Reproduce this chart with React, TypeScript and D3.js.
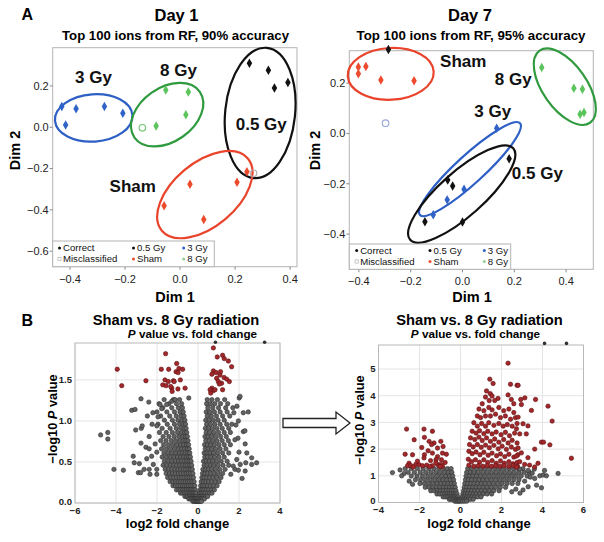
import React from "react";
import * as d3 from "d3";

const FONT = "'Liberation Sans', Arial, Helvetica, sans-serif";

// ---------------- Panel A data (MDS coordinates) ----------------
const day1_05Gy = [[0.252, 0.31], [0.321, 0.276], [0.343, 0.19], [0.392, 0.216]];
const day1_3Gy = [[-0.43, 0.10], [-0.378, 0.09], [-0.275, 0.10], [-0.208, 0.068], [-0.416, 0.011]];
const day1_8Gy = [[-0.052, 0.18], [0.03, 0.17], [0.021, 0.06], [-0.087, 0.006]];
const day1_Sham = [[0.036, -0.276], [0.207, -0.266], [-0.058, -0.38], [0.086, -0.446], [0.243, -0.215]];
const day1_Misclassified = [[-0.137, -0.003, "8 Gy"], [0.267, -0.223, "0.5 Gy"]];

const day7_05Gy = [[0.18, -0.101], [-0.057, -0.185], [-0.038, -0.209], [-0.145, -0.351], [0, -0.352], [-0.286, 0.334]];
const day7_3Gy = [[0.132, 0.021], [0.006, -0.222], [-0.059, -0.264], [-0.113, -0.323]];
const day7_8Gy = [[0.306, 0.262], [0.43, 0.18], [0.463, 0.176], [0.454, 0.076], [0.469, 0.083]];
const day7_Sham = [[-0.402, 0.264], [-0.402, 0.237], [-0.373, 0.266], [-0.315, 0.213], [-0.187, 0.21]];
const day7_Misclassified = [[-0.297, 0.041, "3 Gy"]];

// group ellipses: centre, semi-axes (x units), rotation (deg)
const day1_Ellipses = [
  { group: "3 Gy", cx: -0.314, cy: 0.045, a: 0.141, b: 0.086, angle: -4 },
  { group: "8 Gy", cx: -0.047, cy: 0.061, a: 0.145, b: 0.098, angle: -35 },
  { group: "0.5 Gy", cx: 0.291, cy: 0.069, a: 0.238, b: 0.127, angle: -84 },
  { group: "Sham", cx: 0.09, cy: -0.326, a: 0.204, b: 0.116, angle: -40 },
];
const day7_Ellipses = [
  { group: "Sham", cx: -0.277, cy: 0.237, a: 0.166, b: 0.1, angle: -3 },
  { group: "8 Gy", cx: 0.395, cy: 0.186, a: 0.17, b: 0.085, angle: 55 },
  { group: "3 Gy", cx: 0.029, cy: -0.142, a: 0.262, b: 0.054, angle: -42.5 },
  { group: "0.5 Gy", cx: -0.003, cy: -0.241, a: 0.266, b: 0.085, angle: -41.6 },
];
const day1_Labels = [
  { text: "3 Gy", x: -0.315, y: 0.216 },
  { text: "8 Gy", x: -0.006, y: 0.248 },
  { text: "0.5 Gy", x: 0.295, y: -0.013 },
  { text: "Sham", x: -0.172, y: -0.312 },
];
const day7_Labels = [
  { text: "Sham", x: 0.003, y: 0.266 },
  { text: "8 Gy", x: 0.196, y: 0.193 },
  { text: "3 Gy", x: 0.117, y: 0.067 },
  { text: "0.5 Gy", x: 0.289, y: -0.182 },
];
const pcaTicksX = [-0.4, -0.2, 0.0, 0.2, 0.4];
const day1_TicksY = [-0.6, -0.4, -0.2, 0.0, 0.2];
const day7_TicksY = [-0.4, -0.2, 0.0, 0.2];
const legendLabels = [["Correct", "Misclassified"], ["0.5 Gy", "Sham"], ["3 Gy", "8 Gy"]];

const pointColor = { "0.5 Gy": "#111111", "3 Gy": "#2f63c8", "8 Gy": "#5cc45c", Sham: "#ec4a2c" };
const ellipseColor = { "0.5 Gy": "#111111", "3 Gy": "#2d5fc4", "8 Gy": "#2f9a3e", Sham: "#e9442b" };
const miscColor = { "8 Gy": "#6cc36c", "0.5 Gy": "#b0b0b0", "3 Gy": "#98a4da" };

// ---------------- Panel B data (volcano plots) ----------------
// Day 1: rows of [ -log10 P, log2 FC values ... ] for the dense cloud
const bl_GrayRowsLeft = [
  [1.26, -1.65, -1.2, -0.9], [1.21, -1.9, -1.42, -1.05, -0.8], [1.16, -1.72, -1.28, -0.96, -0.76],
  [1.11, -2.0, -1.52, -1.15, -0.88, -0.72], [1.06, -1.82, -1.38, -1.06, -0.83, -0.68],
  [1.01, -1.64, -1.25, -0.98, -0.78, -0.64], [0.96, -1.95, -1.5, -1.15, -0.9, -0.73, -0.61],
  [0.91, -1.75, -1.36, -1.06, -0.84, -0.68, -0.58], [0.86, -1.88, -1.55, -1.25, -1.0, -0.8, -0.65, -0.55],
  [0.81, -1.7, -1.42, -1.16, -0.93, -0.75, -0.62, -0.52], [0.76, -1.82, -1.56, -1.3, -1.08, -0.88, -0.72, -0.59, -0.49],
  [0.71, -1.68, -1.44, -1.22, -1.02, -0.84, -0.69, -0.56, -0.46],
  [0.66, -1.78, -1.55, -1.34, -1.14, -0.96, -0.8, -0.66, -0.53, -0.43],
  [0.61, -1.66, -1.45, -1.26, -1.08, -0.91, -0.76, -0.62, -0.5, -0.4],
  [0.56, -1.75, -1.54, -1.35, -1.17, -1.0, -0.85, -0.71, -0.58, -0.47, -0.37],
  [0.51, -1.64, -1.45, -1.27, -1.1, -0.95, -0.81, -0.67, -0.55, -0.44, -0.34],
  [0.46, -1.7, -1.52, -1.35, -1.19, -1.04, -0.9, -0.76, -0.63, -0.52, -0.41, -0.31],
  [0.41, -1.6, -1.43, -1.27, -1.12, -0.98, -0.85, -0.72, -0.6, -0.49, -0.38, -0.28],
  [0.36, -1.55, -1.39, -1.24, -1.1, -0.96, -0.83, -0.7, -0.58, -0.47, -0.36, -0.25],
  [0.31, -1.48, -1.33, -1.19, -1.05, -0.92, -0.79, -0.67, -0.55, -0.44, -0.33, -0.22],
  [0.26, -1.36, -1.22, -1.09, -0.97, -0.85, -0.73, -0.62, -0.51, -0.41, -0.3, -0.19],
  [0.21, -1.22, -1.1, -0.98, -0.87, -0.76, -0.66, -0.56, -0.46, -0.36, -0.26, -0.16],
  [0.16, -1.05, -0.94, -0.84, -0.74, -0.65, -0.56, -0.47, -0.38, -0.3, -0.21, -0.13],
  [0.12, -0.85, -0.76, -0.67, -0.59, -0.51, -0.43, -0.36, -0.29, -0.22, -0.15, -0.09],
  [0.08, -0.64, -0.56, -0.49, -0.42, -0.35, -0.29, -0.23, -0.17, -0.11, -0.06],
  [0.05, -0.45, -0.38, -0.32, -0.26, -0.2, -0.15, -0.1, -0.05],
  [0.02, -0.25, -0.19, -0.14, -0.09, -0.05, -0.02],
];
const bl_GrayRowsRight = [
  [1.26, 0.45, 0.68, 0.95, 1.3], [1.21, 0.42, 0.6, 0.82, 1.1, 1.45], [1.16, 0.48, 0.72, 1.0, 1.35, 1.7],
  [1.11, 0.4, 0.58, 0.8, 1.08, 1.42], [1.06, 0.45, 0.65, 0.9, 1.2, 1.55], [1.01, 0.38, 0.55, 0.75, 0.98, 1.28],
  [0.96, 0.42, 0.6, 0.82, 1.08, 1.4, 1.65], [0.91, 0.36, 0.52, 0.7, 0.92, 1.18, 1.5],
  [0.86, 0.4, 0.57, 0.77, 1.0, 1.28, 1.58], [0.81, 0.34, 0.49, 0.66, 0.86, 1.1, 1.38],
  [0.76, 0.38, 0.54, 0.72, 0.93, 1.18, 1.48], [0.71, 0.32, 0.46, 0.62, 0.8, 1.02, 1.28, 1.58],
  [0.66, 0.35, 0.5, 0.67, 0.86, 1.08, 1.36], [0.61, 0.3, 0.44, 0.59, 0.76, 0.96, 1.2, 1.5],
  [0.56, 0.33, 0.47, 0.63, 0.81, 1.02, 1.28], [0.51, 0.27, 0.4, 0.55, 0.72, 0.91, 1.13, 1.42],
  [0.46, 0.3, 0.44, 0.6, 0.78, 0.98, 1.22, 1.5], [0.41, 0.24, 0.37, 0.51, 0.67, 0.85, 1.06, 1.32],
  [0.36, 0.22, 0.34, 0.47, 0.62, 0.79, 0.98, 1.2], [0.31, 0.19, 0.3, 0.43, 0.57, 0.73, 0.91, 1.12],
  [0.26, 0.16, 0.27, 0.39, 0.52, 0.67, 0.84, 1.03], [0.21, 0.13, 0.23, 0.34, 0.46, 0.6, 0.76, 0.93],
  [0.16, 0.1, 0.19, 0.29, 0.4, 0.52, 0.66, 0.8], [0.12, 0.08, 0.16, 0.25, 0.34, 0.45, 0.57, 0.68],
  [0.08, 0.06, 0.13, 0.2, 0.28, 0.37, 0.47], [0.05, 0.04, 0.1, 0.16, 0.23, 0.31], [0.02, 0.02, 0.06, 0.11, 0.17],
];
const bl_GrayScatter = [
  [-4.75, 0.83], [-4.4, 0.86], [-4.4, 0.78], [-4.1, 0.41], [-3.64, 0.4], [-3.16, 0.57], [-3.11, 0.49], [-2.86, 0.48],
  [-2.91, 0.37], [-2.8, 0.37], [-2.63, 0.41], [-2.38, 0.41], [-2.34, 0.35], [-2.78, 1.27], [-2.4, 1.23], [-3.23, 1.13],
  [-3.07, 1.14], [-2.47, 1.06], [-2.77, 0.91], [-2.72, 0.94], [-3.04, 0.89], [-2.24, 0.96], [-2.38, 0.81], [-2.78, 0.73],
  [-2.54, 0.68], [-2.38, 0.66], [-2.26, 0.57], [-2.5, 0.54], [-2.18, 0.47], [-2.01, 0.41], [-2.01, 0.35], [-1.85, 1.2],
  [-1.77, 1.15], [-1.53, 1.2], [-2.01, 0.94], [-2.09, 0.72], [-2.01, 0.62], [-1.28, 1.24], [-1.12, 1.26], [-0.45, 1.28],
  [-2.2, 1.1], [-1.95, 1.05],
  [2.01, 1.28], [2.21, 1.1], [2.45, 1.11], [1.97, 1.0], [2.21, 0.87], [1.95, 0.79], [2.3, 0.72], [2.38, 0.61],
  [2.62, 0.55], [2.86, 0.49], [2.62, 0.47], [2.33, 0.49], [2.06, 0.47], [1.8, 0.41], [1.97, 0.4], [2.3, 0.39],
  [1.72, 0.45], [1.89, 0.53], [2.29, 0.88], [2.05, 1.3], [1.8, 0.77], [2.0, 0.62], [1.85, 0.95], [1.75, 1.1],
  [1.9, 1.18], [2.15, 0.3], [1.6, 0.35],
];
const bl_Red = [
  [-1.58, 1.82], [-1.79, 1.63], [-1.43, 1.63], [-1.04, 1.7], [-0.93, 1.64], [-0.75, 1.63], [-1.07, 1.6], [-1.61, 1.5],
  [-1.45, 1.48], [-1.2, 1.49], [-0.86, 1.5], [-1.72, 1.44], [-1.56, 1.43], [-1.28, 1.4], [-0.98, 1.39], [-0.63, 1.4],
  [-1.26, 1.36], [-3.94, 1.63], [-3.72, 1.43], [-2.54, 1.49], [-1.16, 1.48], [-1.33, 1.42], [-0.97, 1.59],
  [0.75, 1.89], [1.2, 1.8], [1.28, 1.76], [0.94, 1.78], [1.48, 1.73], [1.64, 1.66], [0.75, 1.61], [0.88, 1.59],
  [0.68, 1.57], [1.07, 1.56], [1.27, 1.53], [1.4, 1.51], [1.53, 1.48], [0.91, 1.52], [0.99, 1.48], [1.15, 1.46],
  [1.04, 1.45], [0.68, 1.4], [0.59, 1.38], [0.75, 1.37], [0.62, 1.34], [1.2, 1.38], [0.83, 1.38], [1.1, 1.6],
];
const bl_OffScale = [[0.85, 1.96], [3.25, 1.96]];

// Day 7
const br_GrayRowsRight = [
  [1.27, 0.35, 0.55, 0.78, 1.0, 1.22, 1.45, 1.68, 1.9, 2.12, 2.35, 2.58, 2.8, 3.05],
  [1.13, 0.3, 0.48, 0.66, 0.86, 1.08, 1.3, 1.52, 1.74, 1.96, 2.18, 2.4, 2.62, 2.85, 3.1, 3.35],
  [0.99, 0.27, 0.43, 0.6, 0.78, 0.97, 1.18, 1.4, 1.62, 1.84, 2.06, 2.28, 2.5, 2.72, 2.96, 3.25],
  [0.85, 0.24, 0.39, 0.55, 0.72, 0.9, 1.09, 1.29, 1.5, 1.71, 1.92, 2.14, 2.36, 2.6, 2.85],
  [0.71, 0.21, 0.35, 0.5, 0.66, 0.83, 1.01, 1.2, 1.4, 1.6, 1.81, 2.03, 2.27, 2.52, 2.8],
  [0.57, 0.18, 0.31, 0.45, 0.6, 0.76, 0.93, 1.11, 1.3, 1.5, 1.71, 1.94, 2.2],
  [0.44, 0.15, 0.27, 0.4, 0.54, 0.69, 0.85, 1.02, 1.2, 1.4, 1.62, 1.88],
  [0.32, 0.12, 0.23, 0.35, 0.48, 0.62, 0.77, 0.93, 1.1, 1.3, 1.52],
  [0.21, 0.09, 0.19, 0.3, 0.42, 0.55, 0.69, 0.84, 1.0],
  [0.12, 0.06, 0.15, 0.25, 0.36, 0.48, 0.62],
  [0.05, 0.03, 0.11, 0.2, 0.3],
];
const br_GrayRowsLeft = [
  [1.27, -2.7, -2.4, -2.1, -1.82, -1.55, -1.3, -1.06, -0.84, -0.64, -0.46],
  [1.13, -2.55, -2.25, -1.96, -1.7, -1.45, -1.21, -0.99, -0.78, -0.59, -0.42],
  [0.99, -2.4, -2.12, -1.85, -1.6, -1.36, -1.13, -0.92, -0.72, -0.54, -0.38],
  [0.85, -2.2, -1.95, -1.71, -1.48, -1.26, -1.05, -0.85, -0.67, -0.5, -0.34],
  [0.71, -1.98, -1.76, -1.55, -1.35, -1.15, -0.96, -0.78, -0.61, -0.45, -0.3],
  [0.57, -1.72, -1.53, -1.35, -1.17, -1.0, -0.84, -0.68, -0.53, -0.39, -0.26],
  [0.44, -1.45, -1.29, -1.13, -0.98, -0.84, -0.7, -0.57, -0.45, -0.33, -0.22],
  [0.32, -1.15, -1.02, -0.9, -0.78, -0.66, -0.55, -0.45, -0.35, -0.26, -0.17],
  [0.21, -0.85, -0.75, -0.65, -0.56, -0.47, -0.38, -0.3, -0.22, -0.13],
  [0.12, -0.55, -0.47, -0.39, -0.32, -0.25, -0.18, -0.11, -0.06],
  [0.05, -0.28, -0.21, -0.15, -0.09, -0.04],
];
const br_GrayScatter = [
  [-3.32, 1.12], [-2.75, 1.09], [-2.87, 1.0], [-2.34, 0.68], [-2.95, 1.22], [-2.5, 0.8],
  [2.89, 1.25], [3.13, 0.8], [3.3, 0.59], [3.05, 0.47], [3.71, 0.65], [3.95, 0.55], [3.87, 1.0], [4.03, 1.03],
  [4.19, 1.0], [4.76, 1.09], [3.5, 1.1], [3.62, 0.9], [3.3, 1.2], [3.4, 0.95], [2.7, 0.5], [2.9, 0.35],
  [2.5, 0.4], [3.6, 1.25], [4.1, 1.2],
];
const br_Red = [
  [-2.63, 2.75], [-1.78, 2.75], [-1.37, 2.67], [-2.26, 2.35], [-1.76, 2.44], [-1.53, 2.29], [-1.29, 2.23], [-1.41, 2.17],
  [-1.12, 2.04], [-0.96, 2.29], [-1.89, 2.06], [-1.58, 1.94], [-2.34, 1.79], [-2.7, 1.81], [-1.76, 1.79], [-1.37, 1.85],
  [-1.12, 1.72], [-0.88, 1.85], [-1.78, 1.67], [-1.46, 1.57], [-1.19, 1.61], [-2.51, 1.47], [-2.18, 1.43], [-2.58, 1.38],
  [-2.42, 1.38], [-2.02, 1.42], [-1.86, 1.38], [-1.37, 1.38], [-1.12, 1.42], [-0.96, 1.43], [-0.88, 1.36], [-1.65, 1.4],
  [-1.5, 1.35], [-2.3, 1.33], [-0.85, 2.1], [-0.69, 1.81], [-0.75, 1.5], [-0.93, 1.6], [-1.2, 1.5], [-2.1, 1.55], [-1.0, 1.35],
  [2.32, 5.22], [1.43, 4.62], [1.59, 4.46], [2.44, 4.43], [2.76, 4.39], [1.27, 4.18], [1.45, 4.08], [1.54, 3.99],
  [1.22, 3.95], [1.4, 3.82], [1.67, 3.82], [1.83, 3.9], [2.32, 4.03], [2.48, 3.86], [2.6, 3.7], [1.06, 3.7], [0.9, 3.5],
  [1.14, 3.44], [1.38, 3.56], [1.54, 3.47], [1.87, 3.56], [2.11, 3.44], [2.36, 3.5], [2.6, 3.37],
  [0.82, 3.24], [0.98, 3.18], [1.22, 3.24], [1.46, 3.24], [1.71, 3.31], [1.95, 3.18], [2.19, 3.24], [2.44, 3.12], [2.68, 3.18],
  [0.65, 2.99], [0.82, 2.86], [1.03, 2.96], [1.22, 2.86], [1.38, 2.99], [1.63, 2.89], [1.87, 2.96], [2.08, 2.86],
  [2.28, 2.92], [2.52, 2.86], [2.76, 2.96],
  [0.57, 2.67], [0.76, 2.6], [0.93, 2.69], [1.14, 2.58], [1.33, 2.67], [1.54, 2.57], [1.74, 2.64], [1.98, 2.54],
  [2.19, 2.63], [2.39, 2.5], [2.64, 2.6],
  [0.49, 2.42], [0.7, 2.36], [0.9, 2.45], [1.06, 2.32], [1.27, 2.42], [1.46, 2.29], [1.67, 2.38], [1.87, 2.26],
  [2.11, 2.36], [2.32, 2.23], [2.52, 2.33], [2.76, 2.23],
  [0.44, 2.17], [0.62, 2.08], [0.82, 2.17], [1.01, 2.07], [1.22, 2.15], [1.41, 2.05], [1.63, 2.14], [1.84, 2.01],
  [2.03, 2.11], [2.24, 1.99], [2.48, 2.08], [2.68, 1.99],
  [0.41, 1.92], [0.57, 1.83], [0.76, 1.89], [0.95, 1.79], [1.14, 1.88], [1.35, 1.77], [1.54, 1.85], [1.76, 1.75],
  [1.95, 1.82], [2.16, 1.72], [2.36, 1.81], [2.6, 1.7], [2.8, 1.79],
  [0.38, 1.62], [0.54, 1.53], [0.73, 1.6], [0.93, 1.51], [1.14, 1.6], [1.33, 1.5], [1.54, 1.57], [1.74, 1.47],
  [1.95, 1.56], [2.14, 1.47], [2.36, 1.53], [2.56, 1.45], [2.76, 1.5],
  [0.41, 1.4], [0.65, 1.36], [0.87, 1.38], [1.09, 1.36], [1.3, 1.38], [1.51, 1.36], [1.71, 1.38], [1.92, 1.36],
  [2.13, 1.38], [2.36, 1.36], [2.57, 1.38], [2.78, 1.36],
  [2.81, 4.39], [2.94, 3.86], [3.14, 3.92], [3.66, 3.86], [2.97, 3.67], [3.46, 3.45], [4.27, 3.61], [4.47, 3.05],
  [2.81, 3.2], [3.05, 2.95], [3.29, 2.87], [2.73, 2.76], [2.89, 2.57], [3.21, 2.57], [3.95, 2.26], [4.05, 2.26],
  [4.36, 2.16], [3.62, 2.0], [2.81, 2.04], [2.97, 1.86], [2.73, 1.74], [5.41, 1.66], [3.29, 1.68], [2.89, 1.53],
  [3.13, 1.43], [3.37, 1.4], [3.78, 1.47], [3.62, 1.33], [2.73, 1.33],
];
const br_OffScale = [[4.1, 5.96], [5.17, 5.96]];

const bl_TicksX = [-6, -4, -2, 0, 2, 4];
const bl_TicksY = [0, 0.5, 1.0, 1.5];
const br_TicksX = [-4, -2, 0, 2, 4, 6];
const br_TicksY = [0, 1, 2, 3, 4, 5];

const expandRows = (rows) => rows.flatMap(([y, ...xs]) => xs.map((x) => [x, y]));

// ---------------- components ----------------
function PcaPanel({ frame, xDomain, yDomain, yTicks, series, misc, ellipses, labels, legend }) {
  const xs = d3.scaleLinear().domain(xDomain).range([frame.x0, frame.x1]);
  const ys = d3.scaleLinear().domain(yDomain).range([frame.y1, frame.y0]);
  const k = xs(1) - xs(0);
  const fmt = d3.format(".1f");
  const diamond = d3.symbol().type(d3.symbolDiamond).size(26)();
  const legColors = [["#111", "#bbb"], ["#111", "#ec4a2c"], ["#2f63c8", "#8fd08f"]];
  return (
    <g>
      <rect x={frame.x0} y={frame.y0} width={frame.x1 - frame.x0} height={frame.y1 - frame.y0}
        fill="none" stroke="#b3b3b3" strokeWidth={1} />
      {pcaTicksX.map((t) => (
        <g key={"x" + t}>
          <line x1={xs(t)} x2={xs(t)} y1={frame.y1} y2={frame.y1 + 3} stroke="#888" />
          <text x={xs(t)} y={frame.y1 + 16} textAnchor="middle" fontSize={11} fill="#222">{fmt(t)}</text>
        </g>
      ))}
      {yTicks.map((t) => (
        <g key={"y" + t}>
          <line x1={frame.x0 - 3} x2={frame.x0} y1={ys(t)} y2={ys(t)} stroke="#888" />
          <text x={frame.x0 - 4} y={ys(t)} dy="0.35em" textAnchor="end" fontSize={11} fill="#222">{fmt(t)}</text>
        </g>
      ))}
      {ellipses.map((e) => {
        const cx = xs(e.cx), cy = ys(e.cy);
        return (
          <ellipse key={e.group} cx={cx} cy={cy} rx={e.a * k} ry={e.b * k}
            transform={`rotate(${e.angle},${cx},${cy})`} fill="none"
            stroke={ellipseColor[e.group]} strokeWidth={2.2} />
        );
      })}
      {series.map((s) =>
        s.pts.map((p, i) => (
          <path key={s.group + i} d={diamond} transform={`translate(${xs(p[0])},${ys(p[1])})`}
            fill={pointColor[s.group]} />
        ))
      )}
      {misc.map((m, i) => (
        <circle key={"m" + i} cx={xs(m[0])} cy={ys(m[1])} r={3.3} fill="none"
          stroke={miscColor[m[2]]} strokeWidth={1.1} />
      ))}
      {labels.map((l) => (
        <text key={l.text} x={xs(l.x)} y={ys(l.y)} textAnchor="middle" fontSize={17}
          fontWeight="bold" fill="#111">{l.text}</text>
      ))}
      <rect x={frame.x0} y={legend.y0} width={legend.w} height={frame.y1 - legend.y0}
        fill="white" stroke="#b3b3b3" strokeWidth={1} />
      {legendLabels.map((col, ci) =>
        col.map((lab, ri) => (
          <g key={lab}>
            {ci === 0 && ri === 1 ? (
              <rect x={frame.x0 + legend.cols[ci] - 1.6} y={legend.rows[ri] - 5} width={3.2} height={3.2}
                fill="none" stroke="#bbb" strokeWidth={0.8} />
            ) : (
              <circle cx={frame.x0 + legend.cols[ci]} cy={legend.rows[ri] - 3.3} r={1.5}
                fill={legColors[ci][ri]} />
            )}
            <text x={frame.x0 + legend.cols[ci] + 3.5} y={legend.rows[ri]} fontSize={9.6} fill="#111">{lab}</text>
          </g>
        ))
      )}
    </g>
  );
}

function VolcanoPanel({ frame, xDomain, yDomain, xTicks, yTicks, yFmt, gray, red, off }) {
  const xs = d3.scaleLinear().domain(xDomain).range([frame.x0, frame.x1]);
  const ys = d3.scaleLinear().domain(yDomain).range([frame.y1, frame.y0]);
  return (
    <g>
      {xTicks.map((t) => (
        <line key={"gx" + t} x1={xs(t)} x2={xs(t)} y1={frame.y0} y2={frame.y1} stroke="#e4e4e4" />
      ))}
      {yTicks.map((t) => (
        <line key={"gy" + t} x1={frame.x0} x2={frame.x1} y1={ys(t)} y2={ys(t)} stroke="#e4e4e4" />
      ))}
      <rect x={frame.x0} y={frame.y0} width={frame.x1 - frame.x0} height={frame.y1 - frame.y0}
        fill="none" stroke="#b8b8b8" strokeWidth={1} />
      {gray.map((p, i) => (
        <circle key={"g" + i} cx={xs(p[0])} cy={ys(p[1])} r={2.2} fill="#626262" stroke="#2e2e2e" strokeWidth={0.6} />
      ))}
      {red.map((p, i) => (
        <circle key={"r" + i} cx={xs(p[0])} cy={ys(p[1])} r={2.2} fill="#a3282b" stroke="#5e1012" strokeWidth={0.6} />
      ))}
      {off.map((p, i) => (
        <circle key={"o" + i} cx={xs(p[0])} cy={ys(p[1])} r={1.8} fill="#333" />
      ))}
      {xTicks.map((t) => (
        <text key={"tx" + t} x={xs(t)} y={frame.y1 + 10.5} textAnchor="middle" fontSize={9.5}
          fontWeight="bold" fill="#222">{d3.format("d")(t)}</text>
      ))}
      {yTicks.map((t) => (
        <text key={"ty" + t} x={frame.x0 - 3} y={ys(t) - (t === 0 ? 1.5 : 0)} dy="0.35em" textAnchor="end" fontSize={9.5}
          fontWeight="bold" fill="#222">{yFmt(t)}</text>
      ))}
    </g>
  );
}

export default function App() {
  const blGray = [...expandRows(bl_GrayRowsLeft), ...expandRows(bl_GrayRowsRight), ...bl_GrayScatter];
  const brGray = [...expandRows(br_GrayRowsLeft), ...expandRows(br_GrayRowsRight), ...br_GrayScatter];
  return (
    <svg width={604} height={542} viewBox="0 0 604 542"
      style={{ position: "absolute", left: 0, top: 0, background: "white", fontFamily: FONT }}>
      <rect x={0} y={0} width={604} height={542} fill="white" />
      {/* Panel labels */}
      <text x={21.5} y={20} fontSize={16} fontWeight="bold">A</text>
      <text x={21.5} y={326} fontSize={16} fontWeight="bold">B</text>

      {/* Day 1 */}
      <text x={176.5} y={20.5} textAnchor="middle" fontSize={16.5} fontWeight="bold">Day 1</text>
      <text x={175.5} y={39.5} textAnchor="middle" fontSize={12.5} fontWeight="bold"
        textLength={227} lengthAdjust="spacingAndGlyphs">Top 100 ions from RF, 90% accuracy</text>
      <PcaPanel
        frame={{ x0: 52.7, x1: 297, y0: 47.7, y1: 266.7 }}
        xDomain={[-0.463, 0.425]} yDomain={[-0.675, 0.385]} yTicks={day1_TicksY}
        series={[
          { group: "3 Gy", pts: day1_3Gy }, { group: "8 Gy", pts: day1_8Gy },
          { group: "0.5 Gy", pts: day1_05Gy }, { group: "Sham", pts: day1_Sham },
        ]}
        misc={day1_Misclassified} ellipses={day1_Ellipses} labels={day1_Labels}
        legend={{ y0: 241, w: 161.6, rows: [251.3, 262.3], cols: [6.8, 80.8, 131] }}
      />
      <text x={175} y={301.5} textAnchor="middle" fontSize={14.5} fontWeight="bold">Dim 1</text>
      <text transform="translate(19.5,150.5) rotate(-90)" textAnchor="middle" fontSize={14.5} fontWeight="bold">Dim 2</text>

      {/* Day 7 */}
      <text x={470} y={20.5} textAnchor="middle" fontSize={16.5} fontWeight="bold">Day 7</text>
      <text x={471} y={39.5} textAnchor="middle" fontSize={12.5} fontWeight="bold"
        textLength={229} lengthAdjust="spacingAndGlyphs">Top 100 ions from RF, 95% accuracy</text>
      <PcaPanel
        frame={{ x0: 349.3, x1: 593.3, y0: 50.7, y1: 269.3 }}
        xDomain={[-0.437, 0.505]} yDomain={[-0.54, 0.329]} yTicks={day7_TicksY}
        series={[
          { group: "Sham", pts: day7_Sham }, { group: "8 Gy", pts: day7_8Gy },
          { group: "3 Gy", pts: day7_3Gy }, { group: "0.5 Gy", pts: day7_05Gy },
        ]}
        misc={day7_Misclassified} ellipses={day7_Ellipses} labels={day7_Labels}
        legend={{ y0: 244, w: 161.4, rows: [253.8, 264.9], cols: [7.4, 80.7, 135] }}
      />
      <text x={472} y={301.5} textAnchor="middle" fontSize={14.5} fontWeight="bold">Dim 1</text>
      <text transform="translate(319.5,150.5) rotate(-90)" textAnchor="middle" fontSize={14.5} fontWeight="bold">Dim 2</text>

      {/* Volcano Day 1 */}
      <text x={176} y={325} textAnchor="middle" fontSize={14.7} fontWeight="bold">Sham vs. 8 Gy radiation</text>
      <text x={192.5} y={338.3} textAnchor="middle" fontSize={11.7} fontWeight="bold">
        <tspan fontStyle="italic">P</tspan> value vs. fold change
      </text>
      <VolcanoPanel
        frame={{ x0: 75, x1: 280, y0: 343, y1: 503 }}
        xDomain={[-6, 4]} yDomain={[0, 1.95]} xTicks={bl_TicksX} yTicks={bl_TicksY}
        yFmt={d3.format(".1f")} gray={blGray} red={bl_Red} off={bl_OffScale}
      />
      <text x={177.5} y={528} textAnchor="middle" fontSize={13} fontWeight="bold">log2 fold change</text>
      <text transform="translate(56.5,419) rotate(-90)" textAnchor="middle" fontSize={12.8} fontWeight="bold">
        −log10 <tspan fontStyle="italic">P</tspan> value
      </text>

      {/* Arrow */}
      <path d="M283,418.5 H336 V412 L350,423 L336,434 V427.5 H283 Z" fill="white" stroke="#222" strokeWidth={1.3} />

      {/* Volcano Day 7 */}
      <text x={479.5} y={325} textAnchor="middle" fontSize={14.7} fontWeight="bold">Sham vs. 8 Gy radiation</text>
      <text x={475.5} y={338} textAnchor="middle" fontSize={11.7} fontWeight="bold">
        <tspan fontStyle="italic">P</tspan> value vs. fold change
      </text>
      <VolcanoPanel
        frame={{ x0: 378.5, x1: 583.5, y0: 345, y1: 502.5 }}
        xDomain={[-4, 6]} yDomain={[0, 5.9]} xTicks={br_TicksX} yTicks={br_TicksY}
        yFmt={d3.format("d")} gray={brGray} red={br_Red} off={br_OffScale}
      />
      <text x={479} y={528} textAnchor="middle" fontSize={13} fontWeight="bold">log2 fold change</text>
      <text transform="translate(364,420) rotate(-90)" textAnchor="middle" fontSize={12.8} fontWeight="bold">
        −log10 <tspan fontStyle="italic">P</tspan> value
      </text>
    </svg>
  );
}
